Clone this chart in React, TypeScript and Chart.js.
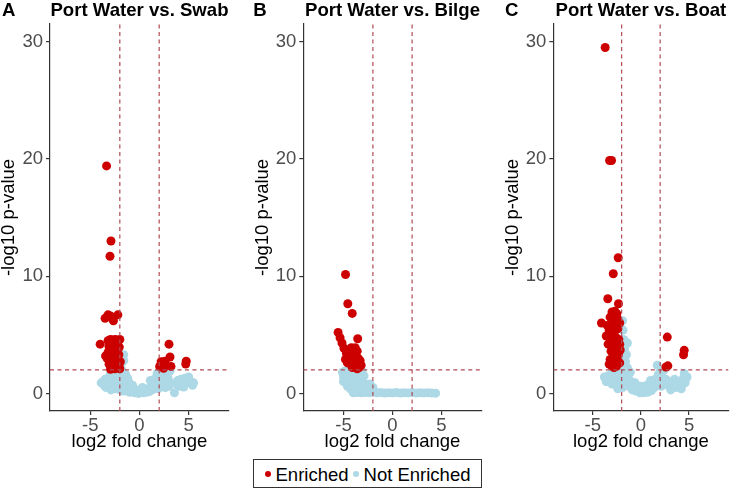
import React, { useEffect, useRef } from 'react';
import { Chart, registerables } from 'chart.js';

Chart.register(...registerables);

type Pt = [number, number];

// ---------- data ----------
const X_MIN = -9.1;
const X_MAX = 9.1;
const Y_MIN = -1.5;
const Y_MAX = 31.5;
const X_TICKS = [-5, 0, 5];
const Y_TICKS = [0, 10, 20, 30];
const FC_CUTOFFS = [-2, 2];
const P_CUTOFF = 2;

const PANEL_LETTERS = ['A', 'B', 'C'];
const PANEL_TITLES = ['Port Water vs. Swab', 'Port Water vs. Bilge', 'Port Water vs. Boat'];
const LEGEND_LABELS = ['Enriched', 'Not Enriched'];
const X_TITLE = 'log2 fold change';
const Y_TITLE = '-log10 p-value';

const swabEnriched: Pt[] = [
  [-3.35, 19.4], [-2.9, 13.0], [-3.0, 11.7],
  [-3.5, 6.4], [-3.2, 6.7], [-2.95, 6.6], [-2.65, 6.2], [-2.2, 6.7], [-2.85, 6.45],
  [-4.0, 4.2],
  [-3.2, 4.5], [-2.95, 4.6], [-2.7, 4.55], [-2.45, 4.6], [-2.15, 4.5], [-2.0, 4.6],
  [-3.1, 4.0], [-2.8, 4.1], [-2.55, 3.9], [-2.3, 4.05], [-2.05, 3.95],
  [-3.45, 3.2], [-3.2, 3.5], [-2.9, 3.6], [-2.6, 3.4], [-2.35, 3.6], [-2.1, 3.3],
  [-3.3, 3.0], [-3.0, 2.9], [-2.75, 3.1], [-2.5, 2.8], [-2.2, 2.95], [-1.95, 2.7],
  [-3.1, 2.5], [-2.85, 2.3], [-2.6, 2.4], [-2.35, 2.2], [-2.1, 2.35],
  [-2.95, 2.05], [-2.5, 2.1], [-2.0, 2.1],
  [2.05, 2.3], [2.2, 2.7], [2.4, 2.5], [2.6, 2.75], [2.45, 2.15],
  [3.0, 4.2], [3.1, 3.1], [3.2, 2.3], [4.75, 2.75], [4.7, 2.5],
];

const swabNotEnriched: Pt[] = [
  [-3.9, 0.9], [-3.7, 1.0], [-3.5, 1.2], [-3.6, 0.7], [-3.3, 0.8], [-3.2, 1.3], [-3.0, 1.0],
  [-3.0, 1.6], [-2.8, 0.6], [-2.8, 1.2], [-2.7, 1.9], [-2.6, 0.9], [-2.5, 1.5], [-2.5, 0.4],
  [-2.4, 2.2], [-2.3, 1.1], [-2.2, 0.6], [-2.2, 1.7], [-2.1, 2.5], [-2.0, 0.3], [-2.0, 1.3],
  [-1.9, 0.9], [-1.8, 2.0], [-1.7, 1.5], [-1.6, 3.3], [-1.6, 2.8], [-1.6, 0.5], [-1.5, 1.1],
  [-1.8, 2.6], [-3.4, 0.5], [-2.9, 0.3], [-1.75, 0.2], [-1.4, 1.6], [-1.2, 1.3],
  [-1.4, 0.2], [-1.3, 0.7], [-1.2, 0.4], [-1.1, 1.0], [-1.0, 0.1], [-0.9, 0.5], [-0.8, 0.2],
  [-0.6, 0.4], [-0.5, 0.05], [-0.3, 0.2], [-0.1, 0.0], [0.0, 0.3], [0.2, 0.1], [0.4, 0.05],
  [0.5, 0.3], [0.7, 0.1], [0.9, 0.4], [1.0, 0.15], [1.2, 0.6], [1.3, 0.3], [1.4, 0.9],
  [-0.7, 0.7], [0.3, 0.5], [1.1, 1.1],
  [1.5, 0.5], [1.6, 1.3], [1.7, 0.8], [1.8, 1.7], [1.9, 0.4], [2.0, 1.1], [2.1, 1.9],
  [2.2, 0.7], [2.3, 1.4], [2.4, 2.0], [2.5, 1.0], [2.6, 0.5], [2.7, 1.6], [2.8, 0.9],
  [2.9, 1.3], [3.0, 0.6], [3.1, 1.9], [3.2, 0.9],
  [3.55, 0.05], [3.8, 0.8], [3.9, 1.1], [4.0, 0.6], [4.2, 1.2], [4.4, 0.8], [4.6, 1.3],
  [4.8, 0.9], [5.0, 1.4], [5.2, 1.0], [5.4, 0.7], [5.5, 0.9], [4.5, 0.55],
];

const bilgeEnriched: Pt[] = [
  [-4.79, 10.14], [-4.56, 7.65], [-4.11, 6.82],
  [-5.55, 5.2], [-5.35, 4.75], [-5.15, 4.3], [-4.95, 3.85], [-4.7, 3.4], [-4.5, 3.0],
  [-4.3, 2.6], [-4.1, 2.2], [-3.55, 4.66],
  [-4.4, 3.6], [-4.2, 3.9], [-4.0, 3.5], [-3.8, 3.9], [-3.6, 3.6], [-3.5, 3.0],
  [-3.3, 2.8], [-3.2, 2.4], [-3.9, 2.9], [-4.2, 2.8], [-3.7, 2.5], [-4.0, 2.3],
  [-3.6, 2.1], [-4.6, 2.6], [-3.4, 2.2], [-3.8, 3.2], [-4.8, 2.9],
];

const bilgeNotEnriched: Pt[] = [
  [-5.1, 1.8], [-4.9, 1.9], [-4.6, 1.95], [-4.3, 1.9], [-4.0, 1.95], [-3.7, 1.9], [-3.4, 1.85],
  [-3.1, 1.9], [-5.0, 1.4], [-4.7, 1.5], [-4.4, 1.4], [-4.1, 1.5], [-3.8, 1.3], [-3.5, 1.4],
  [-3.2, 1.3], [-2.9, 1.5], [-5.0, 1.0], [-4.7, 1.1], [-4.4, 0.9], [-4.1, 1.1], [-3.8, 0.8],
  [-3.5, 1.0], [-3.2, 0.7], [-2.9, 0.9], [-2.6, 0.6], [-2.3, 0.8], [-2.0, 0.5], [-4.6, 0.6],
  [-4.3, 0.4], [-4.1, 0.25], [-3.7, 0.5], [-3.3, 0.3], [-2.7, 0.3], [-2.3, 0.3], [-1.9, 0.2],
  [-4.0, 0.05], [-3.6, 0.08], [-3.2, 0.05], [-2.8, 0.08], [-2.4, 0.05], [-2.0, 0.1],
  [-1.6, 0.05], [-1.2, 0.08], [-0.8, 0.03], [-0.4, 0.06], [0.0, 0.04], [0.4, 0.07],
  [0.8, 0.03], [1.2, 0.06], [1.6, 0.04], [2.0, 0.07], [2.4, 0.03], [2.8, 0.05],
  [3.2, 0.04], [3.6, 0.06], [4.0, 0.03], [4.4, 0.02],
];

const boatEnriched: Pt[] = [
  [-3.71, 29.5], [-3.25, 19.86], [-3.05, 19.86],
  [-2.36, 11.57], [-2.87, 10.2], [-3.44, 8.07], [-2.33, 7.65], [-4.1, 6.0],
  [-3.0, 6.95], [-2.7, 7.0], [-2.5, 6.8], [-3.2, 6.5], [-2.9, 6.3], [-2.45, 6.4],
  [-3.5, 5.8], [-3.3, 5.4], [-3.0, 5.9], [-2.7, 5.7], [-2.4, 5.5], [-2.2, 6.0],
  [-3.6, 4.9], [-3.2, 4.7], [-2.9, 5.0], [-2.6, 4.8], [-2.3, 4.6],
  [-3.4, 4.2], [-3.0, 4.1], [-2.75, 4.3], [-2.5, 3.9], [-2.2, 4.2],
  [-3.1, 3.6], [-2.85, 3.4], [-2.6, 3.6], [-2.35, 3.3], [-2.15, 3.7],
  [-3.2, 2.9], [-2.9, 3.0], [-2.7, 2.7], [-2.45, 2.9], [-2.2, 2.6],
  [-3.05, 2.35], [-2.8, 2.2], [-2.55, 2.3], [-3.3, 2.5],
  [2.74, 4.8], [4.5, 3.67], [4.43, 3.3], [2.6, 2.25], [2.8, 2.35],
];

const boatNotEnriched: Pt[] = [
  [-3.8, 1.4], [-3.6, 1.0], [-3.4, 1.5], [-3.2, 1.1], [-3.0, 1.7], [-3.0, 0.8], [-2.8, 1.3],
  [-2.6, 0.9], [-2.6, 1.9], [-2.4, 1.4], [-2.2, 2.0], [-2.2, 0.7], [-2.0, 1.2],
  [-1.9, 6.2], [-1.85, 5.4], [-1.8, 4.6], [-1.6, 4.4], [-1.4, 4.3], [-1.7, 3.8], [-1.5, 3.3],
  [-1.9, 3.0], [-1.6, 2.7], [-1.4, 2.2], [-1.8, 2.3], [-1.7, 1.7], [-1.5, 1.0], [-1.3, 1.5],
  [-1.2, 0.6], [-1.0, 1.0], [-0.9, 0.3], [-0.7, 0.6], [-0.5, 0.2], [-0.3, 0.4], [-0.1, 0.05],
  [0.1, 0.2], [0.3, 0.05], [0.5, 0.3], [0.7, 0.1], [0.9, 0.5], [1.1, 0.25], [1.2, 0.8],
  [-1.1, 1.8], [-0.6, 0.9], [0.0, 0.6], [0.6, 0.7], [1.0, 1.1], [-2.4, 0.4], [-1.9, 0.5],
  [1.4, 0.5], [1.5, 1.2], [1.6, 0.8], [1.7, 2.4], [1.8, 1.6], [1.9, 1.0], [2.0, 1.9],
  [2.1, 0.6], [2.2, 1.4], [2.4, 2.0], [2.4, 0.9], [2.6, 1.2], [2.8, 0.7], [3.0, 1.0],
  [3.1, 0.3], [3.3, 0.7], [3.5, 1.2], [3.6, 0.5], [3.8, 0.7], [4.0, 1.0], [4.2, 0.4],
  [4.4, 1.3], [4.5, 1.7], [4.8, 1.4], [4.6, 0.9],
];

const ENRICHED = [swabEnriched, bilgeEnriched, boatEnriched];
const NOT_ENRICHED = [swabNotEnriched, bilgeNotEnriched, boatNotEnriched];

// ---------- styling / layout ----------
const FONT = "'Liberation Sans', Arial, Helvetica, sans-serif";
const RED = '#CD0000';
const BLUE = '#ADD8E6';
const CUT_COLOR = '#B04A52';
const AXIS_COLOR = '#333333';
const TICK_TEXT = '#4D4D4D';
const CANVAS_H = 455;

const PANEL_LAYOUT = [
  { left: 0, width: 240, padL: 0, padR: 11, axisW: 50, letterX: 2 },
  { left: 250, width: 240, padL: 3.4, padR: 8.3, axisW: 49.9, letterX: 3.3 },
  { left: 500, width: 233, padL: 3.4, padR: 1.3, axisW: 49.9, letterX: 5 },
];

const headerPlugin = {
  id: 'panelHeader',
  afterDraw(chart: any, _args: any, opts: any) {
    const { ctx, chartArea } = chart;
    ctx.save();
    ctx.fillStyle = '#000';
    ctx.font = `bold 18.6px ${FONT}`;
    ctx.textBaseline = 'alphabetic';
    ctx.textAlign = 'left';
    ctx.fillText(opts.letter, opts.letterX, 16);
    ctx.textAlign = 'center';
    ctx.fillText(opts.title, (chartArea.left + chartArea.right) / 2, 16);
    ctx.restore();
  },
};

function toXY(pts: Pt[]) {
  return pts.map(([x, y]) => ({ x, y }));
}

function Panel({ idx }: { idx: number }) {
  const ref = useRef<HTMLCanvasElement | null>(null);
  const lay = PANEL_LAYOUT[idx];

  useEffect(() => {
    if (!ref.current) return;
    const cutStyle = {
      showLine: true,
      pointRadius: 0,
      pointHoverRadius: 0,
      borderColor: CUT_COLOR,
      borderWidth: 1.2,
      borderDash: [4, 3.5],
      fill: false,
    };
    const chart = new Chart(ref.current, {
      type: 'scatter',
      data: {
        datasets: [
          { ...cutStyle, label: 'p cutoff', data: [{ x: X_MIN, y: P_CUTOFF }, { x: X_MAX, y: P_CUTOFF }] },
          ...FC_CUTOFFS.map((c) => ({
            ...cutStyle,
            label: 'fc cutoff ' + c,
            data: [{ x: c, y: Y_MIN }, { x: c, y: Y_MAX }],
          })),
          {
            label: LEGEND_LABELS[0],
            data: toXY(ENRICHED[idx]),
            backgroundColor: RED,
            borderWidth: 0,
            pointRadius: 4.5,
          },
          {
            label: LEGEND_LABELS[1],
            data: toXY(NOT_ENRICHED[idx]),
            backgroundColor: BLUE,
            borderWidth: 0,
            pointRadius: 4.5,
          },
        ] as any,
      },
      options: {
        animation: false,
        responsive: false,
        devicePixelRatio: 1,
        events: [],
        layout: { padding: { left: lay.padL, right: lay.padR, top: 24, bottom: 0 } },
        plugins: {
          legend: { display: false },
          tooltip: { enabled: false },
          panelHeader: { letter: PANEL_LETTERS[idx], title: PANEL_TITLES[idx], letterX: lay.letterX },
        } as any,
        scales: {
          x: {
            type: 'linear',
            min: X_MIN,
            max: X_MAX,
            afterBuildTicks: (s: any) => {
              s.ticks = X_TICKS.map((v) => ({ value: v }));
            },
            afterFit: (s: any) => {
              s.height = 44;
            },
            ticks: { font: { size: 18.5, family: FONT }, color: TICK_TEXT, padding: 0, maxRotation: 0, autoSkip: false },
            grid: { drawOnChartArea: false, drawTicks: true, tickLength: 4, color: AXIS_COLOR, lineWidth: 1.2 },
            border: { display: true, color: AXIS_COLOR, width: 1.2 },
            title: {
              display: true,
              text: X_TITLE,
              color: '#000',
              font: { size: 18.5, family: FONT, lineHeight: 1 },
              padding: { top: 0, bottom: 4 },
            },
          },
          y: {
            type: 'linear',
            min: Y_MIN,
            max: Y_MAX,
            afterBuildTicks: (s: any) => {
              s.ticks = Y_TICKS.map((v) => ({ value: v }));
            },
            afterFit: (s: any) => {
              s.width = lay.axisW;
            },
            ticks: { font: { size: 18.5, family: FONT }, color: TICK_TEXT, padding: 3, autoSkip: false },
            grid: { drawOnChartArea: false, drawTicks: true, tickLength: 4, color: AXIS_COLOR, lineWidth: 1.2 },
            border: { display: true, color: AXIS_COLOR, width: 1.2 },
            title: {
              display: true,
              text: Y_TITLE,
              color: '#000',
              font: { size: 18.5, family: FONT, lineHeight: 1 },
              padding: { top: 0, bottom: 0 },
            },
          },
        },
      } as any,
      plugins: [headerPlugin as any],
    });
    return () => chart.destroy();
  }, [idx]);

  return (
    <canvas
      ref={ref}
      width={lay.width}
      height={CANVAS_H}
      style={{ position: 'absolute', left: lay.left, top: 0, width: lay.width, height: CANVAS_H }}
    />
  );
}

function Legend() {
  const dot = (c: string) => (
    <span
      style={{
        display: 'inline-block',
        width: 6,
        height: 6,
        borderRadius: '50%',
        background: c,
        marginRight: 5,
        position: 'relative',
        top: -1,
      }}
    />
  );
  return (
    <div
      style={{
        position: 'absolute',
        left: 253,
        top: 459,
        width: 229,
        height: 29,
        boxSizing: 'border-box',
        border: '1px solid #333',
        display: 'flex',
        alignItems: 'center',
        justifyContent: 'center',
        fontFamily: FONT,
        fontSize: 18.5,
        color: '#000',
        paddingTop: 3,
        whiteSpace: 'nowrap',
      }}
    >
      {dot(RED)}
      <span style={{ marginRight: 4 }}>{LEGEND_LABELS[0]}</span>
      {dot(BLUE)}
      <span>{LEGEND_LABELS[1]}</span>
    </div>
  );
}

export default function App() {
  return (
    <div style={{ position: 'absolute', left: 0, top: 0, width: 733, height: 489, background: '#fff', overflow: 'hidden' }}>
      {[0, 1, 2].map((i) => (
        <Panel key={i} idx={i} />
      ))}
      <Legend />
    </div>
  );
}
